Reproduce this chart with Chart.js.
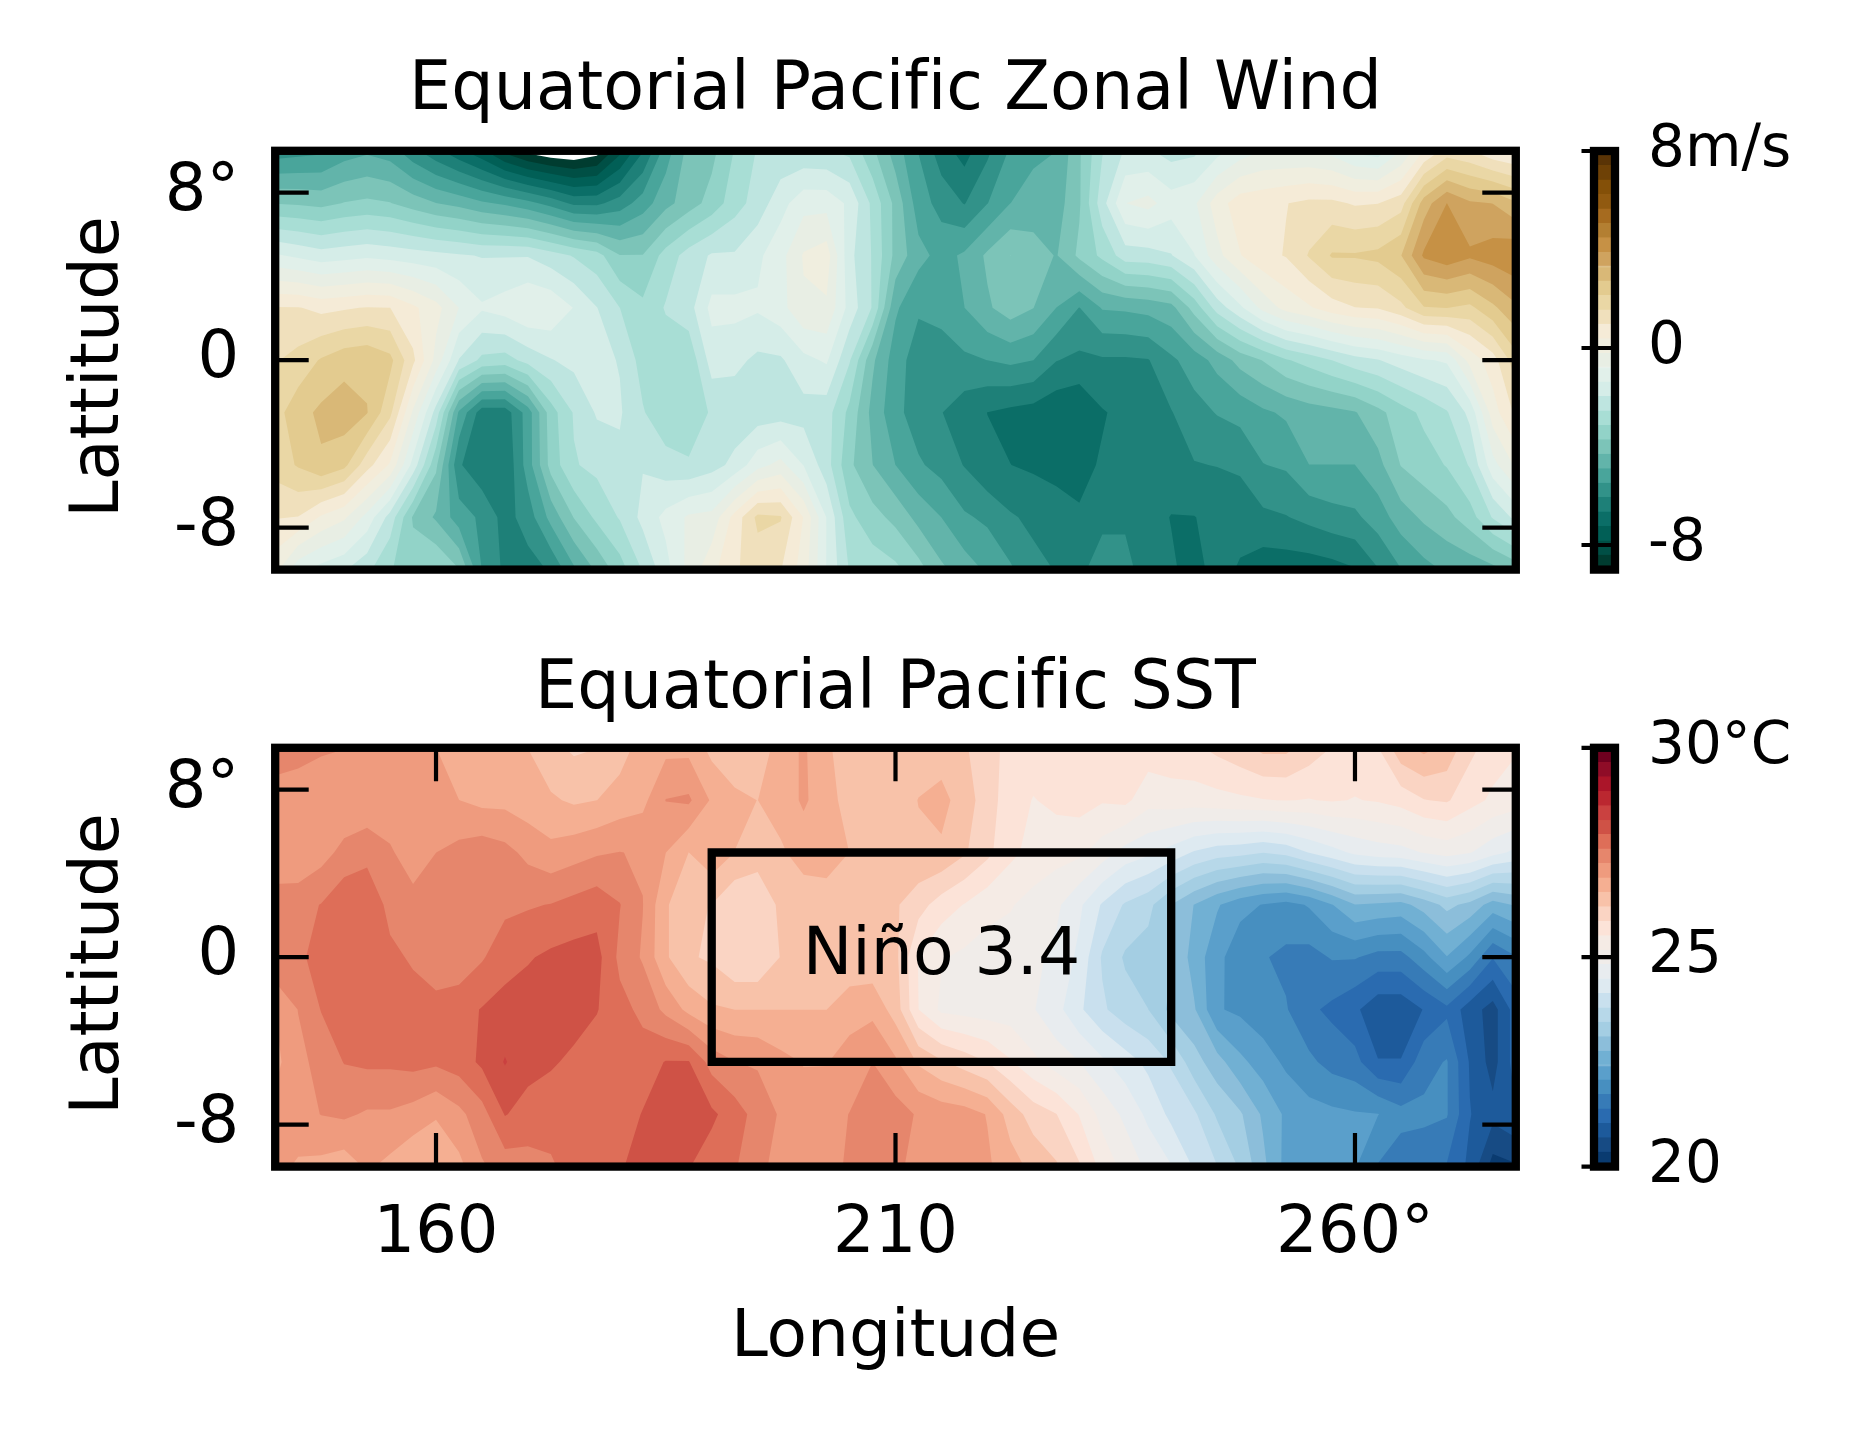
<!DOCTYPE html>
<html>
<head>
<meta charset="utf-8">
<title>Equatorial Pacific</title>
<script src="https://cdn.jsdelivr.net/npm/chart.js@4"></script>
<style>
    html, body { margin: 0; padding: 0; background: #fff; overflow: hidden; }
    canvas { position: absolute; }
</style>
</head>
<body>
<canvas id="windChart" width="1560" height="640" style="left:0px;top:0px"></canvas>
<canvas id="sstChart" width="1560" height="830" style="left:0px;top:600px"></canvas>
<canvas id="windBar" width="291" height="530" style="left:1560px;top:100px"></canvas>
<canvas id="sstBar" width="291" height="530" style="left:1560px;top:696px"></canvas>
<script>
// grid, 2.5 degree steps
const lons = [142.5,145,147.5,150,152.5,155,157.5,160,162.5,165,167.5,170,172.5,175,177.5,180,182.5,185,187.5,190,192.5,195,197.5,200,202.5,205,207.5,210,212.5,215,217.5,220,222.5,225,227.5,230,232.5,235,237.5,240,242.5,245,247.5,250,252.5,255,257.5,260,262.5,265,267.5,270,272.5,275,277.5];
const lats = [10,7.5,5,2.5,0,-2.5,-5,-7.5,-10];

// values, one row per latitude
const windValues = [
    [-5.8,-5.7,-5.6,-5.2,-5.0,-5.2,-5.9,-6.5,-7.1,-7.7,-8.6,-9.2,-9.5,-9.6,-9.3,-8.0,-6.7,-5.2,-4.1, -3.9,-3.1,-2.5,-2.4,-2.45,-2.5,-2.7,-3.6,-4.6,-5.5,-6.4,-6.9,-6.2,-5.4,-5.0,-4.9,-3.8, -2.6,-1.9,-1.9,-2.2,-2.1,-1.6,-1.1,-0.8,-0.8,-0.8,-1.0,-1.5,-1.7,-0.8,0.4,1.2,1.0,0.5,0.3],
    [-3.75,-3.8,-3.9,-3.7,-3.6,-3.7,-4.0,-4.3,-4.5,-4.8,-5.0,-5.3,-5.7,-6.2,-6.2,-5.8,-5.2,-4.5,-4.0, -3.5,-2.8,-2.3,-1.6,-1.0,-1.0,-1.5,-2.7,-3.9,-5.2,-5.7,-6.1,-5.5,-4.9,-4.7,-4.6,-3.8, -2.2,-0.8,-0.6,-1.1,-0.9,0.1,0.7,0.8,0.95,1.1,1.1,0.9,0.95,1.3,3.0,3.9,3.4,3.3,2.8],
    [-1.3,-1.5,-1.7,-1.6,-1.5,-1.6,-1.7,-1.8,-1.9,-2.0,-2.0,-2.0,-2.3,-2.6,-2.9,-3.7,-3.7,-2.9,-2.3, -1.9,-1.9,-1.5,-1.0,-0.15,0.1,-1.8,-2.6,-3.9,-4.7,-5.1,-4.8,-4.2,-3.72,-4.0,-4.35,-3.6, -3.0,-2.25,-2.2,-2.0,-1.4,-0.4,0.35,0.8,1.0,1.6,2.2,2.2,2.3,2.7,4.0,4.3,4.0,4.2,4.4],
    [1.0,1.0,0.8,0.9,1.0,0.97,0.5,0.0,-0.8,-1.3,-1.1,-0.8,-0.9,-1.4,-1.95,-2.55,-3.0,-2.5,-2.2, -1.2,-1.2,-1.3,-1.0,-0.3,-0.3,-1.6,-2.6,-4.8,-5.4,-5.3,-4.9,-4.4,-4.0,-4.3,-4.9,-5.5, -4.85,-4.8,-4.7,-4.5,-3.5,-2.3,-1.5,-0.6,0.0,0.3,0.7,0.95,1.0,1.4,2.1,2.15,2.0,2.6,3.2],
    [1.5,1.75,2.2,2.5,2.6,2.3,1.1,-0.4,-2.0,-2.7,-2.8,-2.35,-2.0,-1.8,-1.8,-2.0,-2.8,-2.9,-3.0, -1.7,-1.8,-2.1,-2.05,-1.55,-1.3,-2.5,-4.2,-5.2,-5.8,-5.75,-5.6,-5.48,-5.35,-5.48,-6.05,-6.2, -6.15,-6.15,-6.1,-5.6,-5.2,-4.7,-4.1,-3.7,-3.2,-2.9,-2.55,-2.2,-2.0,-1.7,-1.45,-1.3,0.0,0.7,1.9],
    [1.9,2.5,2.85,3.05,2.75,1.7,-0.3,-2.2,-5.0,-6.4,-6.4,-5.2,-3.4,-2.5,-1.9,-1.9,-2.5,-3.0,-3.1, -2.45,-2.35,-2.3,-2.25,-2.2,-2.3,-3.3,-4.5,-5.3,-5.8,-6.05,-6.4,-6.66,-6.8,-6.9,-7.1,-7.2, -6.7,-6.5,-6.4,-6.1,-5.7,-5.45,-5.3,-5.0,-4.8,-4.6,-4.5,-4.35,-3.9,-3.4,-3.0,-2.6,-1.8,0.1,1.1],
    [1.8,2.2,2.64,2.3,1.2,0.3,-1.6,-3.6,-6.0,-6.5,-6.6,-5.2,-3.5,-2.6,-2.4,-2.1,-2.0,-2.3,-2.45, -2.2,-1.8,-1.0,-0.6,-1.4,-2.3,-3.6,-4.3,-4.9,-5.4,-5.7,-6.1,-6.55,-6.65,-6.75,-6.9,-6.8, -6.6,-6.6,-6.5,-6.4,-6.1,-6.05,-5.95,-5.5,-5.4,-4.9,-4.9,-4.9,-4.5,-3.7,-3.4,-3.1,-2.5,-1.0,-0.1],
    [1.0,0.95,0.3,-0.1,-1.0,-2.2,-3.8,-4.4,-5.2,-5.6,-6.3,-5.8,-4.7,-3.7,-3.0,-2.5,-1.8,-1.2,-0.7, -0.6,0.6,1.7,1.6,0.35,-1.4,-3.0,-3.5,-3.9,-4.5,-4.9,-5.4,-5.6,-6.0,-6.2,-6.3,-6.6, -6.2,-6.2,-6.5,-6.67,-6.67,-6.5,-6.5,-6.2,-6.1,-5.9,-5.7,-5.6,-5.2,-4.6,-4.2,-3.9,-3.4,-2.5,-1.8],
    [0.0,-1.2,-1.6,-1.9,-2.4,-3.1,-3.4,-3.1,-3.7,-5.5,-6.2,-6.3,-6.0,-5.0,-4.2,-3.4,-2.5,-1.6,-0.6, 0.2,0.9,1.2,1.0,0.1,-1.4,-2.6,-2.8,-3.0,-3.5,-4.2,-4.6,-5.0,-5.4,-5.9,-6.1,-6.2, -5.8,-5.8,-6.5,-6.6,-6.8,-6.5,-6.7,-7.0,-7.0,-7.0,-6.9,-6.7,-6.1,-5.5,-5.1,-4.8,-4.7,-4.5,-4.1]
];

const sstValues = [
    [27.4,27.4,27.3,27.25,27.0,27.0,26.95,26.9,26.6,26.6,26.6,26.55,26.3,26.15,26.2,26.4,26.7,26.8,26.8, 26.45,26.4,26.35,26.7,26.95,26.6,26.4,26.5,26.4,26.4,26.4,26.25,26.0,25.75,25.7,25.7,25.7, 25.7,25.7,25.7,25.75,25.8,25.95,26.1,26.3,26.3,26.05,25.85,25.75,25.85,26.45,26.65,26.45,25.95,25.7,25.55],
    [27.1,27.0,26.95,26.95,26.95,26.95,26.92,26.92,26.9,26.8,26.8,26.7,26.6,26.5,26.55,26.7,26.8,27.25,27.3, 26.85,26.6,26.55,26.7,26.95,26.7,26.4,26.35,26.4,26.56,26.65,26.4,26.0,25.7,25.5,25.6,25.65, 25.55,25.6,25.3,25.35,25.35,25.4,25.45,25.5,25.53,25.5,25.55,25.5,25.55,25.65,25.85,25.9,25.65,25.45,25.35],
    [27.0,26.95,27.1,27.35,27.5,27.3,27.0,27.24,27.35,27.45,27.35,27.15,27.0,27.1,27.2,27.25,27.2,26.9,26.55, 26.8,26.55,26.3,26.5,26.7,26.65,26.55,26.4,26.35,26.5,26.5,26.25,25.95,25.6,25.4,25.3,25.25, 25.0,24.7,24.55,24.35,24.1,23.95,23.9,23.8,23.9,24.15,24.35,24.55,24.65,24.7,24.85,24.95,24.85,24.6,24.4],
    [27.4,27.45,27.6,27.85,27.8,27.5,27.4,27.4,27.35,27.4,27.5,27.55,27.6,27.7,27.8,27.6,27.25,26.6,26.25, 26.2,25.9,26.05,26.25,26.35,26.45,26.35,26.22,26.25,26.0,25.7,25.5,25.3,25.2,25.05,24.9,24.55, 24.1,23.75,23.55,23.1,22.75,22.45,22.2,22.05,21.95,22.1,22.4,22.75,22.7,22.65,22.9,23.2,23.0,22.6,22.8],
    [27.55,27.5,27.75,27.8,27.75,27.65,27.55,27.3,27.35,27.55,27.8,27.9,28.0,28.05,28.05,27.5,27.2,26.6,26.25, 26.15,25.9,25.9,26.22,26.35,26.35,26.3,26.3,26.3,25.5,25.2,25.1,25.0,25.0,24.9,24.75,24.4, 23.75,23.4,23.3,23.15,22.6,22.2,21.8,21.75,21.65,21.6,21.75,21.75,21.6,21.6,21.95,22.4,22.0,21.4,21.7],
    [26.9,27.25,27.6,27.7,27.75,27.75,27.7,27.75,27.8,27.95,28.05,28.1,28.1,28.1,27.95,27.7,27.5,27.15,26.8, 26.6,26.55,26.55,26.55,26.55,26.55,26.75,26.8,26.4,25.52,25.1,25.05,25.0,25.0,24.85,24.6,24.2, 23.85,23.6,23.45,23.0,22.8,22.1,22.0,21.85,21.75,21.45,21.3,21.1,20.8,20.8,21.05,21.3,20.85,20.55,21.2],
    [26.8,27.15,27.35,27.6,27.65,27.65,27.7,27.65,27.75,28.0,28.3,28.05,27.98,27.85,27.75,27.7,27.75,27.95,27.95, 27.45,27.25,27.2,27.0,26.88,26.88,27.05,27.24,26.95,26.5,26.25,26.05,25.86,25.55,25.25,25.0,24.83, 24.55,24.3,24.05,23.75,23.25,22.9,22.5,22.25,22.0,21.8,21.6,21.5,21.05,21.05,21.6,21.75,21.0,20.55,21.2],
    [27.0,27.1,27.25,27.3,27.2,27.2,27.1,26.92,27.15,27.45,27.95,27.8,27.7,27.6,27.7,27.75,27.95,28.05,28.1, 28.0,27.75,27.45,27.2,27.05,27.1,27.25,27.45,27.4,27.2,27.1,27.05,26.88,26.4,26.05,25.87,25.5, 25.05,24.75,24.4,24.05,23.85,23.4,23.15,22.7,22.35,22.2,22.15,22.1,22.08,21.85,21.8,21.75,21.05,20.8,21.0],
    [27.0,26.85,26.8,26.7,26.95,26.8,26.6,26.7,26.8,27.2,27.4,27.45,27.55,27.7,27.75,27.9,28.05,28.05,27.95, 27.75,27.62,27.35,27.1,27.05,27.1,27.3,27.4,27.3,27.15,27.1,27.05,26.95,26.7,26.45,26.25,25.9, 25.4,25.05,24.75,24.5,24.1,23.8,23.4,22.85,22.3,22.15,22.15,22.1,21.7,21.5,21.5,21.35,20.95,20.2,20.3]
];

// contour levels, same ones the colorbars show
const windLevels = [-9,-8.414,-7.828,-7.241,-6.655,-6.069,-5.483,-4.897,-4.31,-3.724,-3.138,-2.552,-1.966,-1.379,-0.793,-0.207,0.379,0.966,1.552,2.138,2.724,3.31,3.897,4.483,5.069,5.655,6.241,6.828,7.414,8];
const sstLevels = [20,20.345,20.69,21.034,21.379,21.724,22.069,22.414,22.759,23.103,23.448,23.793,24.138,24.483,24.828,25.172,25.517,25.862,26.207,26.552,26.897,27.241,27.586,27.931,28.276,28.621,28.966,29.31,29.655,30];

const windColors = ['#003c30','#004f45','#015f56','#0b6e67','#1e8078','#329289','#49a59b','#62b4aa','#7cc4b8','#92d3c8','#a8ded5','#bee5e0','#d5ede8','#e1f0ea','#e8eee4','#f0eedf','#f5ebd7','#f0e0bc','#ead7a5','#e3cb8f','#d9b877','#cfa35f','#c69145','#b37f32','#a66b1f','#915a10','#845008','#6e4106','#5a3406'];
const sstColors = ['#0a3b70','#174b84','#1d5a9b','#2a6bb0','#377bb7','#478fc0','#5a9fcb','#71b0d3','#8cbeda','#a4cee3','#b7d8e9','#c9e0ee','#deeaf1','#e8ecef','#f0ece9','#f5ebe5','#fce3d8','#fad4c3','#f8c2a9','#f5af92','#ef9b7e','#e6866c','#de6e58','#cf5246','#ca4140','#bb2730','#ab1529','#8f0c27','#6f001f'];

// ticks
const xTicks = [160, 210, 260];
const xTickLabels = ['160', '210', '260°'];
const yTicks = [8, 0, -8];
const yTickLabels = ['8°', '0', '-8'];
const windBarTicks = [8, 0, -8];
const windBarLabels = ['8m/s', '0', '-8'];
const sstBarTicks = [30, 25, 20];
const sstBarLabels = ['30°C', '25', '20'];

// Niño 3.4 box
const ninoLons = [190, 240, 240, 190, 190];
const ninoLats = [5, 5, -5, -5, 5];

const FONT = 'DejaVu Sans';
const FRAME = 8.3;
const TICK_LEN = 33.5;
const TICK_W = 4.2;

function cellPolygon(corners, level, xs, ys) {
    // clip one grid cell to the part where value >= level
    const poly = [];
    for (let c = 0; c < 4; c++) {
        const a = corners[c];
        const b = corners[(c + 1) % 4];
        if (a.v >= level) poly.push([xs(a.x), ys(a.y)]);
        if ((a.v >= level) !== (b.v >= level)) {
            const t = (level - a.v) / (b.v - a.v);
            poly.push([xs(a.x + (b.x - a.x) * t), ys(a.y + (b.y - a.y) * t)]);
        }
    }
    return poly;
}

function contourPlugin(values, levels, colors) {
    return {
        id: 'contourFill',
        beforeDatasetsDraw(chart) {
            const ctx = chart.ctx;
            const xs = v => chart.scales.x.getPixelForValue(v);
            const ys = v => chart.scales.y.getPixelForValue(v);
            colors.forEach((color, k) => {
                ctx.beginPath();
                for (let r = 0; r < lats.length - 1; r++) {
                    for (let i = 0; i < lons.length - 1; i++) {
                        const corners = [
                            { x: lons[i], y: lats[r], v: values[r][i] },
                            { x: lons[i + 1], y: lats[r], v: values[r][i + 1] },
                            { x: lons[i + 1], y: lats[r + 1], v: values[r + 1][i + 1] },
                            { x: lons[i], y: lats[r + 1], v: values[r + 1][i] }
                        ];
                        const poly = cellPolygon(corners, levels[k], xs, ys);
                        if (poly.length < 3) continue;
                        ctx.moveTo(poly[0][0], poly[0][1]);
                        for (let p = 1; p < poly.length; p++) ctx.lineTo(poly[p][0], poly[p][1]);
                        ctx.closePath();
                    }
                }
                ctx.fillStyle = color;
                ctx.fill();
            });
        }
    };
}

// no fi ligature in the titles, the reference has none
const plainText = {
    id: 'plainText',
    beforeDraw(chart) { chart.ctx.textRendering = 'optimizeSpeed'; }
};

// frame and inward ticks, drawn over the data
const framePlugin = {
    id: 'frameTicks',
    afterDatasetsDraw(chart) {
        const ctx = chart.ctx;
        const area = chart.chartArea;
        ctx.save();
        ctx.strokeStyle = '#000';
        ctx.lineWidth = TICK_W;
        chart.scales.y.ticks.forEach(t => {
            const y = chart.scales.y.getPixelForValue(t.value);
            ctx.beginPath();
            if (chart.config.type === 'bar') {
                ctx.moveTo(area.right, y);
                ctx.lineTo(area.right - TICK_LEN, y);
            } else {
                ctx.moveTo(area.left, y);
                ctx.lineTo(area.left + TICK_LEN, y);
                ctx.moveTo(area.right, y);
                ctx.lineTo(area.right - TICK_LEN, y);
            }
            ctx.stroke();
        });
        if (chart.scales.x.options.display && chart.config.type !== 'bar') {
            chart.scales.x.ticks.forEach(t => {
                const x = chart.scales.x.getPixelForValue(t.value);
                ctx.beginPath();
                ctx.moveTo(x, area.top);
                ctx.lineTo(x, area.top + TICK_LEN);
                ctx.moveTo(x, area.bottom);
                ctx.lineTo(x, area.bottom - TICK_LEN);
                ctx.stroke();
            });
        }
        ctx.lineWidth = FRAME;
        ctx.lineJoin = 'miter';
        ctx.strokeRect(area.left, area.top, area.right - area.left, area.bottom - area.top);
        ctx.restore();
    }
};

const ninoLabel = {
    id: 'ninoLabel',
    afterDatasetsDraw(chart) {
        const ctx = chart.ctx;
        ctx.save();
        ctx.fillStyle = '#000';
        ctx.font = '66.4px "' + FONT + '"';
        ctx.textAlign = 'center';
        ctx.textBaseline = 'middle';
        ctx.fillText('Niño 3.4', chart.scales.x.getPixelForValue(215), chart.scales.y.getPixelForValue(0));
        ctx.restore();
    }
};

function gridPoints() {
    const pts = [];
    lats.forEach(lat => lons.forEach(lon => pts.push({ x: lon, y: lat })));
    return pts;
}

function clearPadding(scale) {
    scale.paddingTop = 0;
    scale.paddingBottom = 0;
    scale.paddingLeft = 0;
    scale.paddingRight = 0;
}

function panelOptions(title, titleTop, padding, showX) {
    return {
        responsive: false,
        animation: false,
        layout: { padding: padding },
        plugins: {
            legend: { display: false },
            tooltip: { enabled: false },
            title: {
                display: true,
                text: title,
                color: '#000',
                fullSize: false,
                font: { family: FONT, size: 66.8, weight: 'normal', lineHeight: 1.2 },
                padding: { top: titleTop.top, bottom: titleTop.bottom }
            }
        },
        scales: {
            x: {
                type: 'linear',
                display: showX,
                min: 142.5,
                max: 277.5,
                grid: { display: false },
                border: { display: false },
                afterBuildTicks(scale) { scale.ticks = xTicks.map(v => ({ value: v })); },
                afterFit(scale) {
                    clearPadding(scale);
                    scale.height = showX ? 263.4 : 0;
                },
                ticks: {
                    color: '#000',
                    padding: 21,
                    autoSkip: false,
                    maxRotation: 0,
                    font: { family: FONT, size: 65.5 },
                    callback: v => xTickLabels[xTicks.indexOf(v)]
                },
                title: {
                    display: true,
                    text: 'Longitude',
                    color: '#000',
                    font: { family: FONT, size: 66.2, lineHeight: 1.2 },
                    padding: { top: 0, bottom: 51 }
                }
            },
            y: {
                type: 'linear',
                min: -10,
                max: 10,
                grid: { display: false },
                border: { display: false },
                afterBuildTicks(scale) { scale.ticks = yTicks.map(v => ({ value: v })); },
                afterFit(scale) {
                    clearPadding(scale);
                    scale.width = 275.2;
                },
                ticks: {
                    color: '#000',
                    padding: 28,
                    autoSkip: false,
                    font: { family: FONT, size: 65.5 },
                    callback: v => yTickLabels[yTicks.indexOf(v)]
                },
                title: {
                    display: true,
                    // thin space: the reference sits a little below the axis centre
                    text: 'Lattitude\u2009',
                    color: '#000',
                    font: { family: FONT, size: 66.9, lineHeight: 1.2 },
                    padding: { top: 60, bottom: 0 }
                }
            }
        }
    };
}

new Chart(document.getElementById('windChart'), {
    type: 'scatter',
    data: { datasets: [{ data: gridPoints(), pointRadius: 0 }] },
    options: panelOptions('Equatorial Pacific Zonal Wind', { top: 52, bottom: 18.64 }, { right: 44.2, bottom: 70.4 }, false),
    plugins: [plainText, contourPlugin(windValues, windLevels, windColors), framePlugin]
});

new Chart(document.getElementById('sstChart'), {
    type: 'scatter',
    data: {
        datasets: [
            { data: gridPoints(), pointRadius: 0 },
            {
                data: ninoLons.map((lon, i) => ({ x: lon, y: ninoLats[i] })),
                showLine: true,
                fill: false,
                tension: 0,
                pointRadius: 0,
                borderColor: '#000',
                borderWidth: FRAME,
                borderJoinStyle: 'miter',
                borderCapStyle: 'square'
            }
        ]
    },
    options: panelOptions('Equatorial Pacific SST', { top: 51, bottom: 16.64 }, { right: 44.2 }, true),
    plugins: [plainText, contourPlugin(sstValues, sstLevels, sstColors), framePlugin, ninoLabel]
});

function colorBar(id, levels, colors, ticks, labels, padding) {
    new Chart(document.getElementById(id), {
        type: 'bar',
        data: {
            labels: ['bar'],
            datasets: colors.map((c, k) => ({
                data: [[levels[k], levels[k + 1]]],
                backgroundColor: c,
                borderColor: c,
                borderWidth: 1,
                borderSkipped: false,
                barPercentage: 1,
                categoryPercentage: 1
            }))
        },
        options: {
            responsive: false,
            animation: false,
            layout: { padding: padding },
            plugins: { legend: { display: false }, tooltip: { enabled: false } },
            scales: {
                x: { stacked: true, display: false },
                y: {
                    position: 'right',
                    min: levels[0],
                    max: levels[levels.length - 1],
                    grid: { display: false },
                    border: { display: false },
                    afterBuildTicks(scale) { scale.ticks = ticks.map(v => ({ value: v })); },
                    afterFit(scale) {
                        clearPadding(scale);
                        scale.width = 236;
                    },
                    ticks: {
                        color: '#000',
                        padding: 25,
                        autoSkip: false,
                        font: { family: FONT, size: 58 },
                        callback: v => labels[ticks.indexOf(v)]
                    }
                }
            }
        },
        plugins: [plainText, framePlugin]
    });
}

colorBar('windBar', windLevels, windColors, windBarTicks, windBarLabels, { left: 34, top: 51, bottom: 60.4 });
colorBar('sstBar', sstLevels, sstColors, sstBarTicks, sstBarLabels, { left: 34, top: 51.8, bottom: 59.4 });
</script>
</body>
</html>
